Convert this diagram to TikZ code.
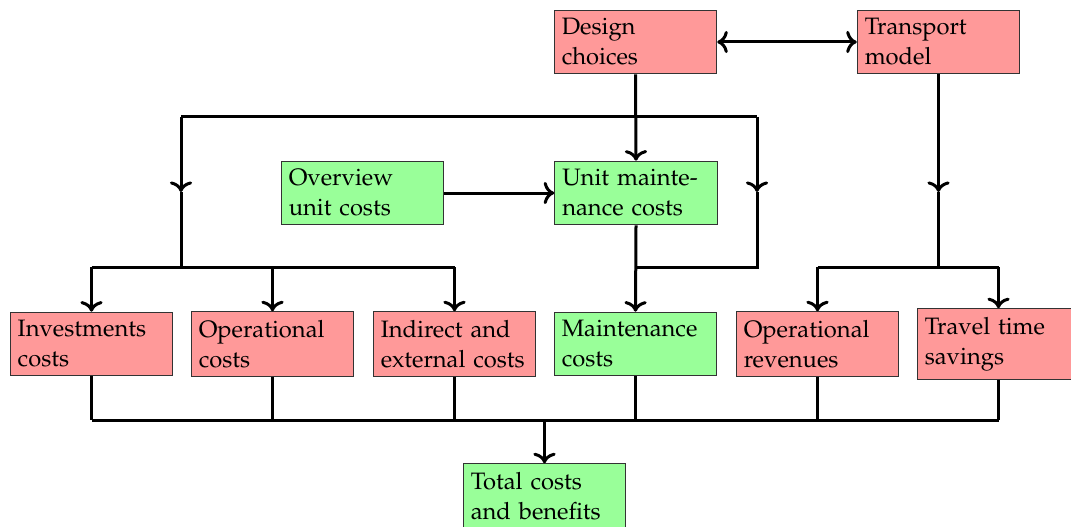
\documentclass[tikz,border=0pt]{standalone}
\usepackage[T1]{fontenc}
\usepackage{mathpazo}
\usetikzlibrary{arrows.meta}
\definecolor{boxred}{RGB}{255,153,153}
\definecolor{boxgreen}{RGB}{153,255,153}
\tikzset{
  basebox/.style={draw=black!80, line width=0.4pt, text width=59pt, align=left, inner xsep=3pt, inner ysep=3.33pt, font=\fontsize{9.5}{12}\selectfont},
  redbox/.style={basebox, fill=boxred},
  greenbox/.style={basebox, fill=boxgreen},
  conn/.style={very thick},
  arr/.style={very thick, ->},
}
\begin{document}
\begin{tikzpicture}[x=0.4pt,y=-0.4pt]
\useasboundingbox (0,0) rectangle (1071,526);
% top row
\node[redbox] (design) at (635.5,42) {Design\\choices};
\node[redbox] (transport) at (938.5,42) {Transport\\model};
% middle row
\node[greenbox] (overview) at (362.5,193) {Overview\\unit costs};
\node[greenbox] (unitm) at (636,193) {Unit mainte-\\nance costs};
% bottom row
\node[redbox] (inv) at (91.5,344) {Investments\\costs};
\node[redbox] (ops) at (272.5,344) {Operational\\costs};
\node[redbox] (ind) at (454.5,344) {Indirect and\\\mbox{external costs}};
\node[greenbox] (maint) at (635.5,344) {Maintenance\\costs};
\node[redbox] (rev) at (817.5,344) {Operational\\revenues};
\node[redbox] (travel) at (998.5,344) {Travel time\\savings};
% total
\node[greenbox] (total) at (544.5,496) {Total costs\\and benefits};
% helper coordinates
\coordinate (tl) at (181,117);
\coordinate (tr) at (757,117);
\coordinate (ml) at (181,192);
\coordinate (mr) at (757,192);
\coordinate (bl) at (181,267);
\coordinate (br) at (757,267);
\coordinate (bus) at (544.5,420);
% connectors
\draw[very thick,<->] (design) -- (transport);
\draw[arr] (overview) -- (unitm);
\draw[arr] (design.south) -- (unitm.north);
\draw[conn] (tl) -- (tr);
\draw[arr] (tl) -- (ml);
\draw[conn] (ml) -- (bl);
\draw[arr] (tr) -- (mr);
\draw[conn] (mr) -- (br) -- (unitm.south |- br);
\draw[arr] (unitm.south) -- (maint.north);
\draw[conn] (inv.north |- bl) -- (ind.north |- bl);
\draw[arr] (inv.north |- bl) -- (inv.north);
\draw[arr] (ops.north |- bl) -- (ops.north);
\draw[arr] (ind.north |- bl) -- (ind.north);
\coordinate (tm) at (transport.south |- ml);
\draw[arr] (transport.south) -- (tm);
\draw[conn] (tm) -- (transport.south |- bl);
\draw[conn] (rev.north |- bl) -- (travel.north |- bl);
\draw[arr] (rev.north |- bl) -- (rev.north);
\draw[arr] (travel.north |- bl) -- (travel.north);
% bottom bus
\draw[conn] (inv.south |- bus) -- (travel.south |- bus);
\foreach \n in {inv,ops,ind,maint,rev,travel} {
  \draw[conn] (\n.south) -- (\n.south |- bus);
}
\draw[arr] (bus) -- (total.north);
\end{tikzpicture}
\end{document}
